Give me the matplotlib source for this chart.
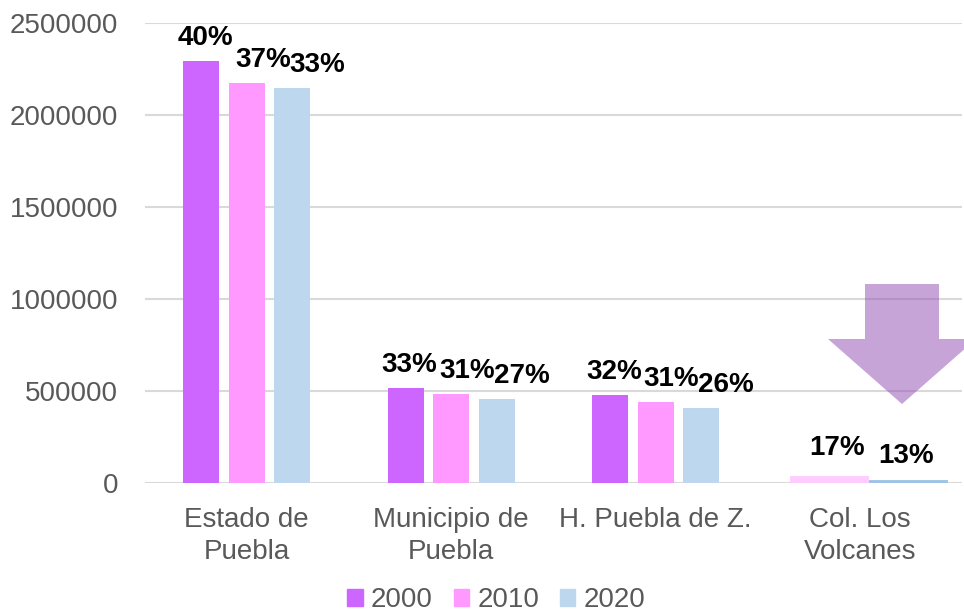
import matplotlib
matplotlib.use("Agg")
import matplotlib.pyplot as plt
from matplotlib.patches import Patch, Polygon
import numpy as np

plt.rcParams['font.family'] = ['Liberation Sans', 'DejaVu Sans']

# data
categories = ["Estado de\nPuebla", "Municipio de\nPuebla", "H. Puebla de Z.", "Col. Los\nVolcanes"]
years = ["2000", "2010", "2020"]
vals_2000 = [2293000, 516000, 478000]
vals_2010 = [2174000, 484000, 440000]
vals_2020 = [2147000, 456000, 408000]
pct_2000 = ["40%", "33%", "32%"]
pct_2010 = ["37%", "31%", "31%"]
pct_2020 = ["33%", "27%", "26%"]
# Col. Los Volcanes (only 2010 and 2020)
volc_vals = [30000, 8000]
volc_pct = ["17%", "13%"]

colors = ["#CC66FF", "#FF99FF", "#BDD7EE"]
volc_colors = ["#FFCCFF", "#9DC3E6"]
gray = "#595959"

fig = plt.figure(figsize=(9.64, 6.15), dpi=100)
ax = fig.add_axes([0.150, 0.2146, 0.848, 0.748])

x = np.arange(3) + 0.5
w = 0.176
step = 0.223
label_dx = [4, 16, 25]
for i, (vals, pcts) in enumerate(zip([vals_2000, vals_2010, vals_2020],
                                     [pct_2000, pct_2010, pct_2020])):
    xs = x + (i - 1) * step
    ax.bar(xs, vals, width=w, color=colors[i], zorder=2)
    for xi, v, p in zip(xs, vals, pcts):
        ax.annotate(p, (xi, v), xytext=(label_dx[i], 10), textcoords='offset pixels',
                    ha='center', va='bottom', fontsize=20, fontweight='bold', color='black')

# last group, wider flat bars
vx = [3.348, 3.735]
vw = 0.363
ax.bar(vx, volc_vals, width=vw, color=volc_colors, edgecolor=volc_colors,
       linewidth=3.5, zorder=2)
for xi, v, p, dx, dy in zip(vx, volc_vals, volc_pct, [8, -2], [17, 13]):
    ax.annotate(p, (xi, v), xytext=(dx, dy), textcoords='offset pixels',
                ha='center', va='bottom', fontsize=20, fontweight='bold', color='black')

ax.set_xlim(0, 4)
ax.set_ylim(0, 2500000)
ax.set_yticks(np.arange(0, 2500001, 500000))
ax.set_yticklabels([str(t) for t in range(0, 2500001, 500000)], fontsize=20, color=gray)
ax.set_xticks(np.arange(4) + 0.5)
ax.set_xticklabels(categories, fontsize=20, color=gray, linespacing=1.3)
ax.tick_params(axis='both', length=0)
ax.tick_params(axis='y', pad=19)
ax.tick_params(axis='x', pad=17)
ax.grid(axis='y', color='#D9D9D9', linewidth=1.5, zorder=0)
for s in ax.spines.values():
    s.set_visible(False)

# big translucent arrow pointing down (figure pixel coords)
W, H = 964, 615
pts = [(865, 284), (939, 284), (939, 339), (976, 339), (902, 404),
       (828, 339), (865, 339)]
arrow = Polygon([(px / W, 1 - py / H) for px, py in pts], closed=True,
                transform=fig.transFigure, facecolor=(0.6, 0.35, 0.72),
                alpha=0.55, edgecolor='none', zorder=5)
fig.patches.append(arrow)

handles = [Patch(color=c, label=y) for c, y in zip(colors, years)]
fig.legend(handles=handles, loc='lower center', bbox_to_anchor=(0.515, -0.038), ncol=3,
           frameon=False, fontsize=20, labelcolor=gray, handlelength=0.55,
           handleheight=0.55, handletextpad=0.3, columnspacing=0.75)

fig.savefig("out.png", dpi=100)
